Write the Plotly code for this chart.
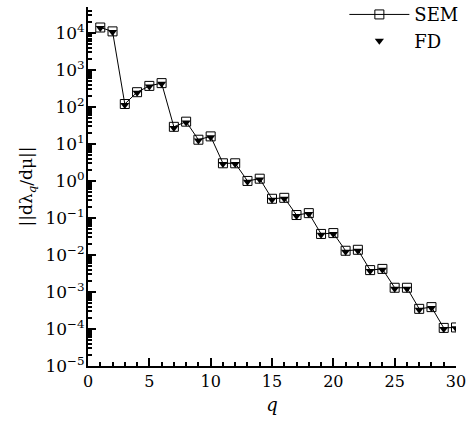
import plotly.graph_objects as go

q = list(range(1, 31))
sem = [1.4e4, 1.1e4, 120, 250, 370, 440, 29, 40, 13, 16,
       3.0, 3.0, 1.0, 1.15, 0.33, 0.35, 0.12, 0.135, 0.037, 0.039,
       0.013, 0.0138, 0.0039, 0.0042, 0.0013, 0.0013, 3.5e-4, 3.9e-4, 1.07e-4, 1.1e-4]
fd = [1.35e4, 1.05e4, 112, 240, 355, 425, 27, 38, 12.4, 15.2,
      2.85, 2.85, 0.95, 1.1, 0.31, 0.33, 0.113, 0.128, 0.035, 0.037,
      0.0123, 0.0131, 0.0037, 0.0040, 0.00123, 0.00123, 3.3e-4, 3.7e-4, 1.0e-4, 1.04e-4]
y_exponents = [-5, -4, -3, -2, -1, 0, 1, 2, 3, 4]
y_tickvals = [10.0 ** e for e in y_exponents]
y_ticktext = ["10<sup>%s</sup>" % (str(e).replace("-", "−")) for e in y_exponents]

font = "DejaVu Serif"

fig = go.Figure()
fig.add_trace(go.Scatter(
    x=q, y=sem, name="SEM", mode="lines+markers",
    line=dict(color="black", width=1),
    marker=dict(symbol="square-open", size=9, color="black", line=dict(width=1))))
fig.add_trace(go.Scatter(
    x=q, y=fd, name="FD", mode="markers",
    marker=dict(symbol="triangle-down", size=8, color="black")))

fig.update_layout(
    width=467, height=423,
    margin=dict(l=88, r=11, t=7, b=57, autoexpand=False),
    plot_bgcolor="white", paper_bgcolor="white",
    font=dict(family=font, size=16, color="black"),
    showlegend=True,
    legend=dict(x=1.02, y=1.03, xanchor="right", yanchor="top",
                bgcolor="rgba(0,0,0,0)", font=dict(family=font, size=18),
                itemwidth=60, tracegroupgap=0),
)
fig.update_xaxes(
    range=[0, 30], showline=True, linecolor="black", linewidth=2,
    ticks="inside", ticklen=8, tickwidth=1.5, tickcolor="black",
    dtick=5, tick0=0, showgrid=False, zeroline=False,
    tickfont=dict(family=font, size=16), automargin=False,
    minor=dict(ticks="inside", ticklen=4, dtick=1, tickcolor="black", showgrid=False),
    title=dict(text="<i>q</i>", standoff=8, font=dict(family=font, size=18)),
)
fig.update_yaxes(
    type="log", range=[-5, 4.7], showline=True, linecolor="black", linewidth=2,
    ticks="inside", ticklen=8, tickwidth=1.5, tickcolor="black",
    tickmode="array", tickvals=y_tickvals, ticktext=y_ticktext,
    tickfont=dict(family=font, size=17), automargin=False,
    ticklabelstandoff=-2,
    showgrid=False, zeroline=False,
    minor=dict(ticks="inside", ticklen=4, dtick="D1", tickcolor="black", showgrid=False),
    title=dict(text="||dλ<sub><i>q</i></sub>/dμ||", standoff=8, font=dict(family=font, size=17)),
)
fig.write_html("out.html")
